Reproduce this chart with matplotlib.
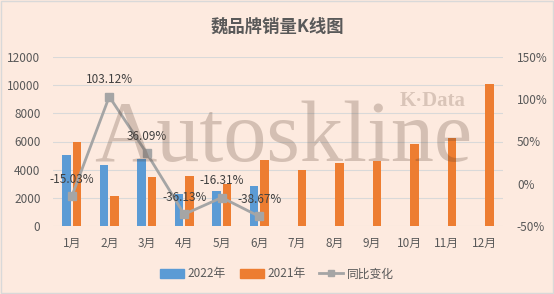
import matplotlib
matplotlib.use("Agg")
import matplotlib.pyplot as plt
from matplotlib.patches import Patch
from matplotlib.lines import Line2D
import numpy as np

plt.rcParams['font.family'] = ['Noto Sans CJK SC', 'DejaVu Sans']

months = ['1月', '2月', '3月', '4月', '5月', '6月', '7月', '8月', '9月', '10月', '11月', '12月']
sales_2022 = [5070, 4330, 4730, 2265, 2490, 2870]
sales_2021 = [5960, 2130, 3475, 3546, 2978, 4680, 3970, 4470, 4610, 5820, 6240, 10070]
yoy = [-15.03, 103.12, 36.09, -36.13, -16.31, -38.67]
yoy_labels = ['-15.03%', '103.12%', '36.09%', '-36.13%', '-16.31%', '-38.67%']

bg = '#FDEADF'
txt = '#595959'

fig = plt.figure(figsize=(5.54, 2.94), dpi=100, facecolor=bg)
fig.patches.append(plt.Rectangle((0.001, 0.002), 0.997, 0.995, transform=fig.transFigure,
                                 fill=False, edgecolor='#D9D9D9', lw=1))
ax = fig.add_axes([53/554, 68/294, 450/554, 169/294])
ax.set_facecolor(bg)

x = np.arange(len(months))
w = 0.23
ax.bar(x[:len(sales_2022)] - 0.14, sales_2022, w, color='#5B9BD5', zorder=2)
ax.bar(x + 0.14, sales_2021, w, color='#ED7D31', zorder=2)
ax.set_xlim(-0.5, 11.5)
ax.set_ylim(0, 12000)
ax.set_yticks(range(0, 12001, 2000))
ax.grid(axis='y', color='#D9D9D9', lw=0.8, zorder=0)
ax.set_xticks(x)
ax.set_xticklabels(months)
ax.tick_params(length=0, labelsize=8.5, colors=txt, pad=8)
ax.tick_params(axis='y', pad=9)
for s in ax.spines.values():
    s.set_visible(False)

ax2 = ax.twinx()
ax2.set_ylim(-50, 150)
ax2.set_yticks(range(-50, 151, 50))
ax2.set_yticklabels([f'{v}%' for v in range(-50, 151, 50)])
ax2.tick_params(length=0, labelsize=8.5, colors=txt, pad=10)
for s in ax2.spines.values():
    s.set_visible(False)
ax2.plot(x[:len(yoy)], yoy, color='#A5A5A5', lw=2, marker='s', ms=6, zorder=3)
for xi, v, lab in zip(x, yoy, yoy_labels):
    ax2.annotate(lab, (xi, v), xytext=(0, 12), textcoords='offset points',
                 ha='center', va='center', fontsize=8.5, color='#404040', zorder=4)

fig.text(0.5, 1 - 27/294, '魏品牌销量K线图', ha='center', va='center',
         fontsize=12.5, fontweight='bold', color=txt)

fig.text(283/554, 1 - 140/294, 'Autoskline', ha='center', va='center',
         fontsize=62, family='Liberation Serif', color='#5a4030', alpha=0.25, zorder=10)
fig.text(433/554, 1 - 101/294, 'K·Data', ha='center', va='center',
         fontsize=15, family='Liberation Serif', fontweight='bold', color='#5a4030', alpha=0.22, zorder=10)

handles = [Patch(color='#5B9BD5'), Patch(color='#ED7D31'),
           Line2D([], [], color='#A5A5A5', lw=2, marker='s', ms=5)]
fig.legend(handles, ['2022年', '2021年', '同比变化'], loc='center', ncol=3,
           bbox_to_anchor=(0.5, 1 - 274/294), frameon=False, fontsize=8.5,
           labelcolor=txt, handlelength=2.0, handleheight=0.7, columnspacing=1.2, handletextpad=0.3)

fig.savefig('out.png', dpi=100, facecolor=bg)
